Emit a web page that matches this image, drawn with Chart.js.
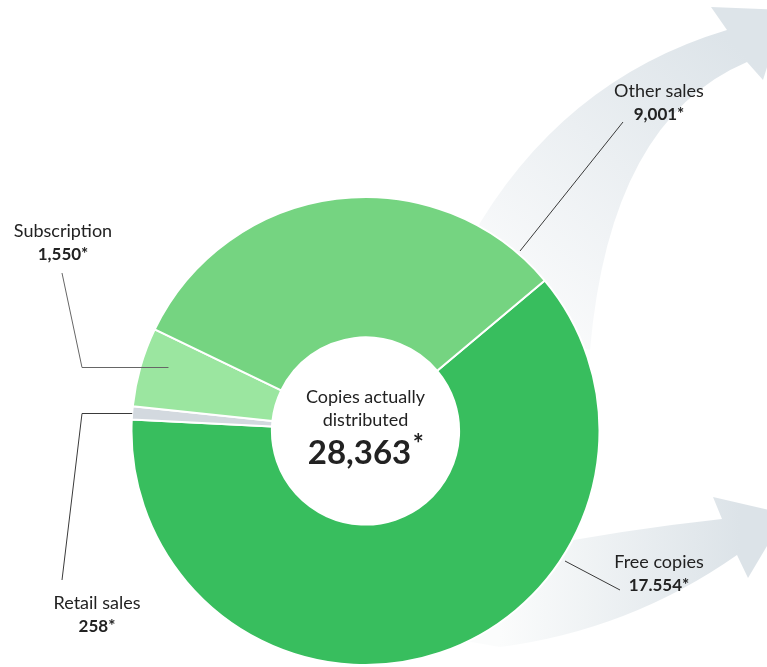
<!DOCTYPE html>
<html>
<head>
<meta charset="utf-8">
<script src="https://cdn.jsdelivr.net/npm/chart.js@4.4.1/dist/chart.umd.min.js"></script>
<style>
  html, body { margin: 0; padding: 0; background: #fff; }
  #wrap { width: 767px; height: 667px; position: relative; }
</style>
</head>
<body>
<div id="wrap"><canvas id="myChart"></canvas></div>
<script>
// data, clockwise from the Other/Free boundary
const categories = ['Free copies', 'Retail sales', 'Subscription', 'Other sales'];
const copies = [17554, 258, 1550, 9001];
const copyLabels = ['17.554*', '258*', '1,550*', '9,001*'];
const centerTitle = ['Copies actually', 'distributed'];
const centerTotal = '28,363';

const sliceColors = ['#38be5e', '#d3d9df', '#9be6a0', '#75d481'];
const FONT = 'Lato, "Open Sans", sans-serif';

// where each label sits; small slices get an elbow leader to their mid angle
const labelSpots = [
  { x: 659, y: 562, leader: 'free' },
  { x: 97, y: 603, leader: 'elbow', elbowX: 82, startY: 580, inset: 0 },
  { x: 63, y: 231, leader: 'elbow', elbowX: 82, startY: 273, inset: 28 },
  { x: 659, y: 91, leader: 'free' }
];
const freeLeaders = { 0: [[620, 590], [565, 561]], 3: [[623, 122], [520, 251]] };

function drawArrows(ctx) {
  // upper arrow
  let g = ctx.createLinearGradient(520, 300, 740, 50);
  g.addColorStop(0, '#f9fafb');
  g.addColorStop(1, '#dde4e9');
  ctx.save();
  ctx.fillStyle = g;
  ctx.beginPath();
  ctx.moveTo(470, 240);
  ctx.quadraticCurveTo(560, 80, 727, 30);
  ctx.lineTo(711, 7);
  ctx.lineTo(785, 10);
  ctx.lineTo(763, 80);
  ctx.lineTo(747, 62);
  ctx.quadraticCurveTo(610, 120, 590, 350);
  ctx.lineTo(470, 330);
  ctx.closePath();
  ctx.fill();

  // lower arrow
  g = ctx.createLinearGradient(500, 0, 740, 0);
  g.addColorStop(0, '#fbfcfc');
  g.addColorStop(1, '#dce3e8');
  ctx.fillStyle = g;
  ctx.beginPath();
  ctx.moveTo(520, 550);
  ctx.quadraticCurveTo(620, 530, 722, 519);
  ctx.lineTo(713, 497);
  ctx.lineTo(786, 514);
  ctx.lineTo(748, 578);
  ctx.lineTo(737, 555);
  ctx.quadraticCurveTo(630, 630, 500, 647);
  ctx.lineTo(460, 640);
  ctx.closePath();
  ctx.fill();
  ctx.restore();
}

const calloutPlugin = {
  id: 'callouts',
  beforeDatasetsDraw(chart) {
    drawArrows(chart.ctx);
  },
  afterDatasetsDraw(chart) {
    const ctx = chart.ctx;
    const arcs = chart.getDatasetMeta(0).data;
    const cx = arcs[0].x, cy = arcs[0].y;
    ctx.save();
    ctx.lineWidth = 1;

    categories.forEach((name, i) => {
      const spot = labelSpots[i];
      ctx.strokeStyle = '#3a3a3a';
      ctx.beginPath();
      if (spot.leader === 'free') {
        const pts = freeLeaders[i];
        ctx.moveTo(pts[0][0], pts[0][1]);
        ctx.lineTo(pts[1][0], pts[1][1]);
      } else {
        const a = arcs[i];
        const mid = (a.startAngle + a.endAngle) / 2;
        const ey = Math.round(cy + a.outerRadius * Math.sin(mid)) + 0.5;
        const ex = cx + a.outerRadius * Math.cos(mid) + spot.inset;
        ctx.moveTo(62, spot.startY);
        ctx.lineTo(spot.elbowX, ey);
        ctx.lineTo(ex, ey);
        if (spot.inset) ctx.strokeStyle = '#666';
      }
      ctx.stroke();

      ctx.fillStyle = '#222';
      ctx.textAlign = 'center';
      ctx.textBaseline = 'middle';
      ctx.font = '18px ' + FONT;
      ctx.fillText(name, spot.x, spot.y);
      ctx.font = 'bold 17px ' + FONT;
      ctx.fillText(copyLabels[i], spot.x, spot.y + 24);
    });

    // centre text
    ctx.fillStyle = '#222';
    ctx.font = '18px ' + FONT;
    ctx.fillText(centerTitle[0], cx, 397);
    ctx.fillText(centerTitle[1], cx, 420);
    ctx.font = 'bold 33px ' + FONT;
    ctx.fillText(centerTotal, cx - 6, 453);
    const w = ctx.measureText(centerTotal).width;
    ctx.font = 'bold 26px ' + FONT;
    ctx.fillText('*', cx - 6 + w / 2 + 7, 445);
    ctx.restore();
  }
};

new Chart(document.getElementById('myChart'), {
  type: 'doughnut',
  plugins: [calloutPlugin],
  data: {
    labels: categories,
    datasets: [{
      data: copies,
      backgroundColor: sliceColors,
      borderColor: '#ffffff',
      borderWidth: 2
    }]
  },
  options: {
    responsive: true,
    maintainAspectRatio: false,
    animation: false,
    rotation: 50,
    cutout: '40%',
    layout: { padding: { left: 130, right: 166, top: 196, bottom: 1 } },
    plugins: {
      legend: { display: false },
      tooltip: { enabled: false }
    }
  }
});
</script>
</body>
</html>
